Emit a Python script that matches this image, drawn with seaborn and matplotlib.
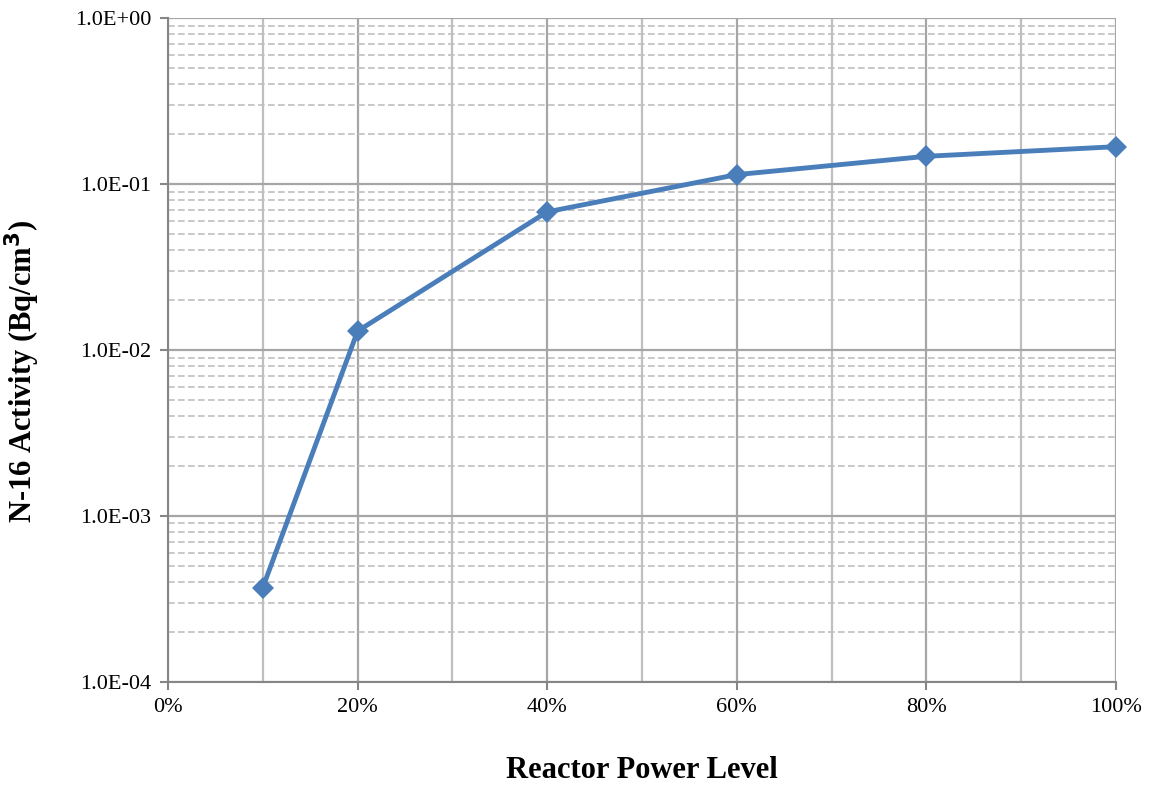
import numpy as np
import pandas as pd
import matplotlib
import matplotlib.pyplot as plt
import matplotlib.ticker as mticker
import seaborn as sns

matplotlib.use("Agg")

# data
power_level = [10, 20, 40, 60, 80, 100]  # %
n16_activity = [3.7e-4, 1.3e-2, 6.8e-2, 1.14e-1, 1.47e-1, 1.68e-1]  # Bq/cm3

df = pd.DataFrame({"power": power_level, "activity": n16_activity})

sns.set_style("white")
plt.rcParams["font.family"] = ["Liberation Serif", "DejaVu Serif"]

fig = plt.figure(figsize=(11.51, 7.90), dpi=100)
ax = fig.add_axes([0.146, 0.137, 0.8235, 0.840])

# log axis and grid first so the line sits on top
ax.set_yscale("log")
ax.set_xlim(0, 100)
ax.set_ylim(1e-4, 1)

ax.xaxis.set_major_locator(mticker.MultipleLocator(20))
ax.xaxis.set_minor_locator(mticker.MultipleLocator(10))
ax.xaxis.set_major_formatter(mticker.FuncFormatter(lambda v, p: "%d%%" % v))
ax.yaxis.set_major_locator(mticker.LogLocator(base=10, numticks=10))
ax.yaxis.set_minor_locator(mticker.LogLocator(base=10, subs=np.arange(2, 10), numticks=20))
ax.yaxis.set_major_formatter(mticker.FuncFormatter(lambda v, p: "%.1E" % v))
ax.yaxis.set_minor_formatter(mticker.NullFormatter())

ax.grid(True, which="major", axis="both", color="#a6a6a6", lw=1.6)
ax.grid(True, which="minor", axis="x", color="#bfbfbf", lw=1.6)
ax.grid(True, which="minor", axis="y", color="#bfbfbf", lw=1.2, ls=(0, (4, 2)))
ax.set_axisbelow(True)

sns.lineplot(data=df, x="power", y="activity", ax=ax, color="#4a7ebb", lw=3.5,
             marker="D", markersize=11, markeredgewidth=0, clip_on=False, zorder=5)

for s in ["top", "right"]:
    ax.spines[s].set_visible(False)
for s in ["left", "bottom"]:
    ax.spines[s].set_color("#868686")
    ax.spines[s].set_linewidth(1.5)

ax.tick_params(axis="both", which="major", direction="out", length=6, width=1.5,
               color="#868686", labelsize=16, labelcolor="black", pad=6)
ax.tick_params(axis="both", which="minor", length=0)
ax.tick_params(axis="x", which="major", bottom=True)
ax.tick_params(axis="y", which="major", left=True)

ax.set_xlabel("Reactor Power Level", fontsize=22, fontweight="bold", color="black", labelpad=28)
ax.set_ylabel("N-16 Activity (Bq/cm$^{\\mathbf{3}}$)", fontsize=22, fontweight="bold",
              color="black")
ax.yaxis.set_label_coords(-0.133, 0.467)

fig.savefig("out.png", dpi=100)
